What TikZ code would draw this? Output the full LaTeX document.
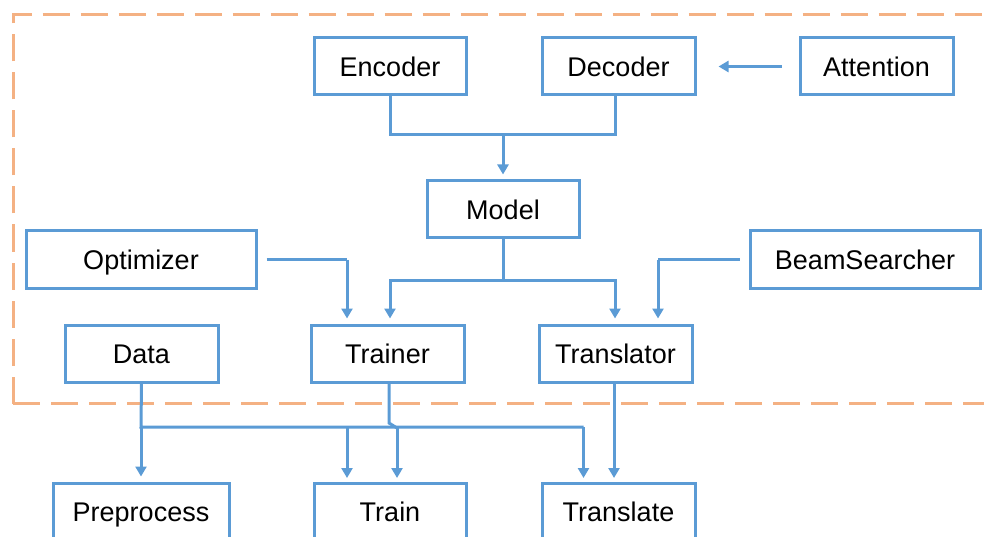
\documentclass[tikz,border=0pt]{standalone}
\usepackage{fontspec}
\setmainfont{Liberation Sans}
\usetikzlibrary{arrows.meta}
\definecolor{bblue}{RGB}{91,155,213}
\definecolor{borange}{RGB}{244,177,131}
\begin{document}
\begin{tikzpicture}[x=1pt,y=-1pt,
  box/.style={draw=bblue,line width=3pt,fill=white,minimum height=57pt,inner sep=0pt,text height=22pt,text depth=2pt,font=\fontsize{27}{31}\selectfont},
  conn/.style={draw=bblue,line width=3pt},
  arr/.style={conn,-{Triangle[width=11pt,length=10pt]},shorten >=5pt}]
\useasboundingbox (0,0) rectangle (984,537);
\clip (0,0) rectangle (984,537);
% dashed group
\draw[borange,line width=3pt,dash pattern=on 27pt off 11pt] (13,403.5) -- (13,15) -- (1000,15);
\draw[borange,line width=3pt,dash pattern=on 27pt off 11pt] (13,403.5) -- (1000,403.5);
% nodes
\node[box,minimum width=152pt] (enc) at (390,66.5) {Encoder};
\node[box,minimum width=153pt] (dec) at (618.5,66.5) {Decoder};
\node[box,minimum width=153pt] (att) at (876.5,66.5) {Attention};
\node[box,minimum width=152pt] (model) at (503,209.5) {Model};
\node[box,minimum width=230pt] (opt) at (141,259.5) {Optimizer};
\node[box,minimum width=230pt] (beam) at (865,259.5) {BeamSearcher};
\node[box,minimum width=153pt] (trainer) at (387.5,353.5) {Trainer};
\node[box,minimum width=153pt] (transl) at (615.5,353.5) {Translator};
\node[box,minimum width=153pt] (data) at (141.5,353.5) {Data};
\node[box,minimum width=176pt] (prep) at (141,511.5) {Preprocess};
\node[box,minimum width=152pt] (train) at (390,511.5) {Train};
\node[box,minimum width=153pt] (translate) at (618.5,511.5) {Translate};
% coordinates
\coordinate (ed) at (503,135);
\coordinate (dd) at (615.5,135);
\coordinate (mt) at (503,280);
\coordinate (ob) at (347,259.5);
\coordinate (bb) at (658,259.5);
\coordinate (dj) at (141,427);
\coordinate (tj1) at (389,423);
\coordinate (tj2) at (397,428);
% connectors
\draw[conn] (enc.south) |- (dd) -- (dd |- dec.south);
\draw[arr] (ed) -- (model.north);
\draw[arr,shorten <=17pt,shorten >=22pt] (att.west) -- (dec.east);
\draw[conn] (model.south) -- (mt);
\draw[arr] (mt) -| ([xshift=2.5pt]trainer.north);
\draw[arr] (mt) -| ([xshift=-0.5pt]transl.north);
\draw[conn,shorten <=9pt] (opt.east) -- (ob);
\draw[arr] (ob) -- (ob |- trainer.north);
\draw[conn,shorten <=9pt] (beam.west) -- (bb);
\draw[arr] (bb) -- (bb |- transl.north);
\draw[conn] (data.south) -- (dj) -- (583.5,427);
\draw[arr] (dj) -- (prep.north);
\draw[arr] (347,427) -- (347,483);
\draw[arr] (583.5,427) -- (583.5,483);
\draw[conn] ([xshift=1.5pt]trainer.south) -- (tj1) -- (tj2);
\draw[arr] (tj2) -- (397,483);
\draw[arr] ([xshift=-1.5pt]transl.south) -- (614,483);
\end{tikzpicture}
\end{document}
